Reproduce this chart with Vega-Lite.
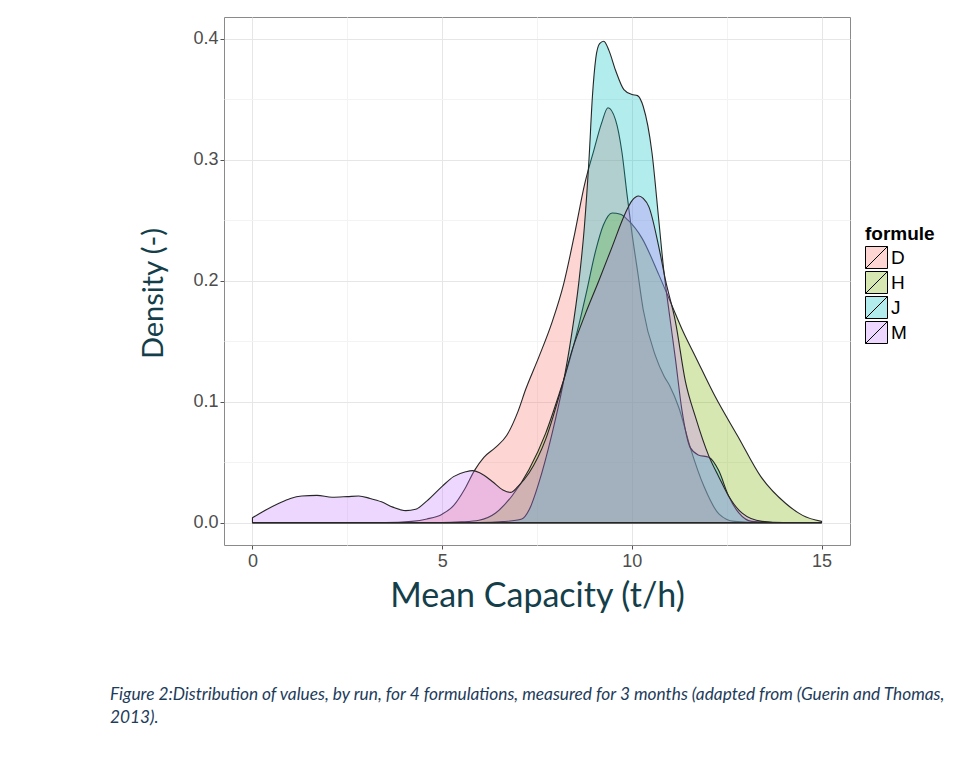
{
"$schema": "https://vega.github.io/schema/vega-lite/v6.json",
"width": 626, "height": 528,
"autosize": "none",
"padding": {"left": 224, "top": 17, "right": 124, "bottom": 222},
"background": "white",
"title": {"text": ["Figure 2:Distribution of values, by run, for 4 formulations, measured for 3 months (adapted from (Guerin and Thomas,", "2013)."], "orient": "bottom", "anchor": "start", "frame": "group", "dx": -114, "offset": 73, "font": "Lato", "fontStyle": "italic", "fontWeight": "normal", "fontSize": 17.3, "color": "#1d3c5b", "lineHeight": 23},
"data": {"values": [
{"f":"D","x":0,"y":0},{"f":"D","x":3.5,"y":0},{"f":"D","x":4.2,"y":0.001},{"f":"D","x":4.6,"y":0.003},{"f":"D","x":5.0,"y":0.007},{"f":"D","x":5.3,"y":0.014},{"f":"D","x":5.6,"y":0.028},{"f":"D","x":5.85,"y":0.043},{"f":"D","x":6.1,"y":0.054},{"f":"D","x":6.4,"y":0.062},{"f":"D","x":6.7,"y":0.072},{"f":"D","x":7.0,"y":0.092},{"f":"D","x":7.2,"y":0.11},{"f":"D","x":7.55,"y":0.137},{"f":"D","x":7.9,"y":0.166},{"f":"D","x":8.2,"y":0.197},{"f":"D","x":8.5,"y":0.24},{"f":"D","x":8.75,"y":0.279},{"f":"D","x":9.0,"y":0.308},{"f":"D","x":9.2,"y":0.33},{"f":"D","x":9.37,"y":0.343},{"f":"D","x":9.57,"y":0.333},{"f":"D","x":9.74,"y":0.306},{"f":"D","x":9.87,"y":0.272},{"f":"D","x":10.0,"y":0.24},{"f":"D","x":10.15,"y":0.208},{"f":"D","x":10.3,"y":0.176},{"f":"D","x":10.62,"y":0.138},{"f":"D","x":10.85,"y":0.121},{"f":"D","x":11.0,"y":0.113},{"f":"D","x":11.24,"y":0.095},{"f":"D","x":11.55,"y":0.061},{"f":"D","x":11.9,"y":0.03},{"f":"D","x":12.3,"y":0.007},{"f":"D","x":12.7,"y":0.001},{"f":"D","x":13.5,"y":0},{"f":"D","x":15,"y":0},
{"f":"H","x":0,"y":0},{"f":"H","x":5.0,"y":0},{"f":"H","x":5.5,"y":0.0006},{"f":"H","x":5.97,"y":0.002},{"f":"H","x":6.41,"y":0.008},{"f":"H","x":6.84,"y":0.022},{"f":"H","x":7.29,"y":0.044},{"f":"H","x":7.73,"y":0.074},{"f":"H","x":8.08,"y":0.106},{"f":"H","x":8.34,"y":0.132},{"f":"H","x":8.6,"y":0.163},{"f":"H","x":8.8,"y":0.19},{"f":"H","x":9.04,"y":0.224},{"f":"H","x":9.25,"y":0.246},{"f":"H","x":9.48,"y":0.256},{"f":"H","x":9.7,"y":0.255},{"f":"H","x":9.9,"y":0.25},{"f":"H","x":10.27,"y":0.235},{"f":"H","x":10.71,"y":0.205},{"f":"H","x":11.05,"y":0.18},{"f":"H","x":11.35,"y":0.158},{"f":"H","x":11.68,"y":0.137},{"f":"H","x":12.2,"y":0.104},{"f":"H","x":12.8,"y":0.071},{"f":"H","x":13.4,"y":0.038},{"f":"H","x":14.05,"y":0.016},{"f":"H","x":14.5,"y":0.006},{"f":"H","x":15,"y":0.001},
{"f":"J","x":0,"y":0},{"f":"J","x":6.0,"y":0},{"f":"J","x":6.6,"y":0.0008},{"f":"J","x":7.1,"y":0.003},{"f":"J","x":7.3,"y":0.011},{"f":"J","x":7.55,"y":0.033},{"f":"J","x":7.9,"y":0.074},{"f":"J","x":8.17,"y":0.112},{"f":"J","x":8.4,"y":0.153},{"f":"J","x":8.6,"y":0.198},{"f":"J","x":8.75,"y":0.245},{"f":"J","x":8.87,"y":0.3},{"f":"J","x":8.96,"y":0.352},{"f":"J","x":9.05,"y":0.384},{"f":"J","x":9.15,"y":0.396},{"f":"J","x":9.26,"y":0.398},{"f":"J","x":9.4,"y":0.39},{"f":"J","x":9.57,"y":0.374},{"f":"J","x":9.79,"y":0.358},{"f":"J","x":10.0,"y":0.354},{"f":"J","x":10.15,"y":0.353},{"f":"J","x":10.3,"y":0.344},{"f":"J","x":10.53,"y":0.306},{"f":"J","x":10.71,"y":0.25},{"f":"J","x":10.84,"y":0.209},{"f":"J","x":11.0,"y":0.17},{"f":"J","x":11.15,"y":0.135},{"f":"J","x":11.32,"y":0.093},{"f":"J","x":11.54,"y":0.062},{"f":"J","x":11.75,"y":0.056},{"f":"J","x":12.03,"y":0.054},{"f":"J","x":12.29,"y":0.043},{"f":"J","x":12.55,"y":0.022},{"f":"J","x":12.82,"y":0.008},{"f":"J","x":13.16,"y":0.001},{"f":"J","x":14,"y":0},{"f":"J","x":15,"y":0},
{"f":"M","x":0,"y":0.004},{"f":"M","x":0.27,"y":0.009},{"f":"M","x":0.7,"y":0.016},{"f":"M","x":1.0,"y":0.02},{"f":"M","x":1.3,"y":0.022},{"f":"M","x":1.7,"y":0.0225},{"f":"M","x":2.1,"y":0.021},{"f":"M","x":2.5,"y":0.0215},{"f":"M","x":2.8,"y":0.022},{"f":"M","x":3.1,"y":0.02},{"f":"M","x":3.4,"y":0.0172},{"f":"M","x":3.7,"y":0.0128},{"f":"M","x":4.04,"y":0.0099},{"f":"M","x":4.3,"y":0.011},{"f":"M","x":4.6,"y":0.018},{"f":"M","x":5.0,"y":0.03},{"f":"M","x":5.3,"y":0.038},{"f":"M","x":5.62,"y":0.042},{"f":"M","x":5.8,"y":0.043},{"f":"M","x":6.0,"y":0.041},{"f":"M","x":6.32,"y":0.034},{"f":"M","x":6.6,"y":0.027},{"f":"M","x":6.8,"y":0.025},{"f":"M","x":7.0,"y":0.03},{"f":"M","x":7.29,"y":0.041},{"f":"M","x":7.73,"y":0.069},{"f":"M","x":8.17,"y":0.114},{"f":"M","x":8.43,"y":0.143},{"f":"M","x":8.78,"y":0.173},{"f":"M","x":9.13,"y":0.2},{"f":"M","x":9.48,"y":0.228},{"f":"M","x":9.83,"y":0.256},{"f":"M","x":10.0,"y":0.266},{"f":"M","x":10.18,"y":0.27},{"f":"M","x":10.3,"y":0.268},{"f":"M","x":10.45,"y":0.261},{"f":"M","x":10.71,"y":0.228},{"f":"M","x":10.89,"y":0.2},{"f":"M","x":11.15,"y":0.166},{"f":"M","x":11.41,"y":0.117},{"f":"M","x":11.68,"y":0.087},{"f":"M","x":12.03,"y":0.055},{"f":"M","x":12.29,"y":0.038},{"f":"M","x":12.55,"y":0.022},{"f":"M","x":12.9,"y":0.008},{"f":"M","x":13.43,"y":0.001},{"f":"M","x":14,"y":0},{"f":"M","x":15,"y":0}
]},
"mark": {"type": "area", "interpolate": "monotone", "fillOpacity": 0.3, "stroke": "#262626", "strokeWidth": 1.1, "strokeJoin": "round"},
"encoding": {
  "x": {"field": "x", "type": "quantitative",
    "scale": {"domain": [-0.75, 15.75], "nice": false, "zero": false},
    "axis": {"title": "Mean Capacity (t/h)", "values": [0, 2.5, 5, 7.5, 10, 12.5, 15],
      "labelExpr": "datum.value % 5 === 0 ? format(datum.value, 'd') : ''",
      "tickOpacity": {"condition": {"test": "datum.value % 5 !== 0", "value": 0}, "value": 1},
      "gridColor": {"condition": {"test": "datum.value % 5 !== 0", "value": "#f3f3f3"}, "value": "#e6e6e6"},
      "labelPadding": 3,
      "titleFontSize": 34, "titleBaseline": "alphabetic", "titleY": 61}},
  "y": {"field": "y", "type": "quantitative", "stack": null,
    "scale": {"domain": [-0.0185, 0.418], "nice": false, "zero": false},
    "axis": {"title": "Density (-)", "values": [0, 0.05, 0.1, 0.15, 0.2, 0.25, 0.3, 0.35, 0.4],
      "labelExpr": "round(datum.value * 100) % 10 === 0 ? format(datum.value, '.1f') : ''",
      "tickOpacity": {"condition": {"test": "round(datum.value * 100) % 10 !== 0", "value": 0}, "value": 1},
      "gridColor": {"condition": {"test": "round(datum.value * 100) % 10 !== 0", "value": "#f3f3f3"}, "value": "#e6e6e6"},
      "titleFontSize": 29, "titleBaseline": "alphabetic", "titleX": -62, "titleY": 276, "titleAlign": "center"}},
  "y2": {"datum": 0},
  "color": {"field": "f", "type": "nominal",
    "scale": {"domain": ["D", "H", "J", "M"], "range": ["#F8766D", "#7CAE00", "#00BFC4", "#C77CFF"]},
    "legend": {"title": "formule", "orient": "none", "legendX": 641, "legendY": 208,
      "symbolType": "M-1,-1H1V1H-1Z M-1,1L1,-1", "symbolSize": 484,
      "symbolStrokeColor": "#000000", "symbolStrokeWidth": 1,
      "rowPadding": -9, "labelOffset": 3, "titlePadding": 2,
      "encode": {"symbols": {"update": {"fillOpacity": {"value": 0.3}, "strokeOpacity": {"value": 1}, "opacity": {"value": 1}}}}}}
},
"config": {
  "view": {"stroke": "#8a8a8a", "strokeWidth": 1},
  "axis": {"domain": false, "grid": true, "gridWidth": 1, "tickColor": "#555555", "tickSize": 4, "tickWidth": 1,
    "labelFont": "Liberation Sans", "labelFontSize": 18, "labelColor": "#4d4d4d",
    "titleFont": "Lato", "titleFontWeight": "normal", "titleColor": "#143f4a"},
  "axisY": {"labelPadding": 2},
  "legend": {"titleFont": "Liberation Sans", "titleFontSize": 19, "titleFontWeight": "bold", "titleColor": "#000000",
    "labelFont": "Liberation Sans", "labelFontSize": 19, "labelColor": "#000000", "padding": 0}
}
}
